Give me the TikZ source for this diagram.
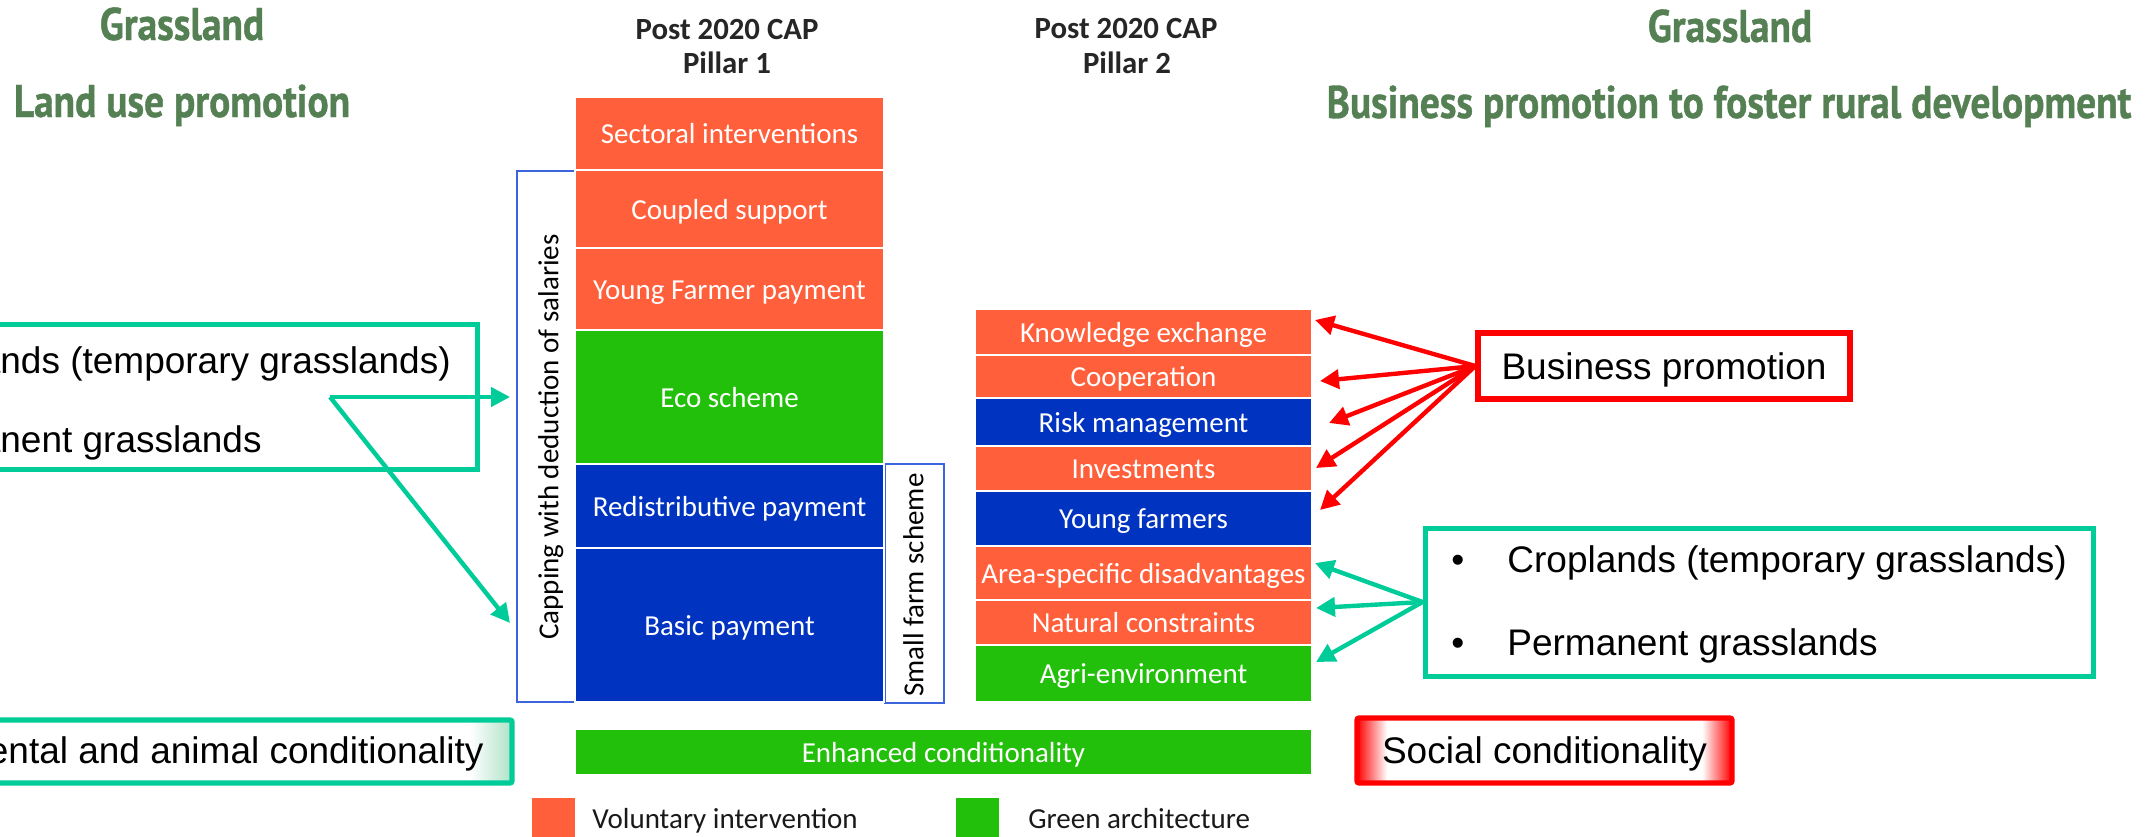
\documentclass[tikz,border=0pt]{standalone}
\usepackage{fontspec}
\usetikzlibrary{arrows.meta,fit}
\setmainfont{Liberation Sans}
\newfontfamily\capfont{Carlito}
\newfontfamily\ttlfont{PT Sans}[FakeStretch=0.86,FakeBold=0.8]
\definecolor{ttlgreen}{RGB}{84,128,84}
\definecolor{cteal}{RGB}{0,204,153}
\definecolor{corange}{RGB}{255,95,58}
\definecolor{cgreen}{RGB}{34,192,10}
\definecolor{cblue}{RGB}{0,51,192}
\definecolor{cbrk}{RGB}{60,100,220}
\definecolor{cred}{RGB}{255,0,0}
\definecolor{envg}{RGB}{175,226,200}
\pgfdeclarehorizontalshading{socshade}{100bp}{color(0bp)=(cred); color(25bp)=(cred); color(29bp)=(white); color(71bp)=(white); color(75bp)=(cred); color(100bp)=(cred)}
\pgfdeclarehorizontalshading{envshade}{100bp}{color(0bp)=(envg); color(25bp)=(envg); color(28bp)=(white); color(72bp)=(white); color(75bp)=(envg); color(100bp)=(envg)}
% box node from corner (#3,#4) to (#5,#6), style #2, name #1, text #7
\newcommand\boxnode[7]{\node[#2, minimum width={(#5-#3)*0.5pt}, minimum height={(#6-#4)*0.5pt}] (#1) at ({(#3+#5)/2},{(#4+#6)/2}) {#7};}
\begin{document}
\begin{tikzpicture}[x=0.5pt,y=-0.5pt,
  ttl/.style={font=\ttlfont\bfseries\fontsize{22.9}{26}\selectfont, text=ttlgreen, inner sep=0pt},
  ptitle/.style={font=\capfont\bfseries\fontsize{15.4}{18}\selectfont, text=black!85, inner sep=0pt},
  bar/.style={draw=white, line width=0.8pt, inner sep=0pt, text=white, font=\capfont\fontsize{14.5}{16}\selectfont, text height=10pt, text depth=0pt},
  obar/.style={bar, fill=corange},
  gbar/.style={bar, fill=cgreen},
  bbar/.style={bar, fill=cblue},
  brk/.style={draw=cbrk, line width=1.1pt, inner sep=0pt},
  captext/.style={font=\capfont\fontsize{14.5}{16}\selectfont, text=black, inner sep=0pt, text height=9.3pt, text depth=0pt},
  lgtext/.style={font=\capfont\fontsize{14.5}{16}\selectfont, text=black!90, inner sep=0pt},
  atext/.style={font=\fontsize{18.5}{22}\selectfont, text=black, inner sep=0pt},
  tealbox/.style={draw=cteal, line width=2.5pt, inner sep=0pt},
  redbox/.style={draw=cred, line width=2.7pt, inner sep=0pt, font=\fontsize{18.5}{22}\selectfont, text height=13.2pt, text depth=0pt},
  socbox/.style={draw=cred, line width=2.6pt, rounded corners=1pt, inner sep=0pt, shading=socshade, font=\fontsize{18.5}{22}\selectfont, text height=13.2pt, text depth=0pt},
  envbox/.style={draw=cteal, line width=2.6pt, rounded corners=1pt, inner sep=0pt, shading=envshade},
  osq/.style={fill=corange, inner sep=0pt},
  gsq/.style={fill=cgreen, inner sep=0pt},
  redarrow/.style={draw=cred, line width=2.2pt, -{Triangle[length=9.5pt,width=9.5pt]}},
  tealarrow/.style={draw=cteal, line width=2.2pt, -{Triangle[length=9.5pt,width=9.5pt]}}
]
\useasboundingbox (0,0) rectangle (2146,836);
\clip (0,0) rectangle (2146,836);
\fill[white] (0,0) rectangle (2146,836);

% titles
\node[ttl, anchor=base] (tl1) at (182,40) {Grassland};
\node[ttl, anchor=base] (tl2) at (182,117) {Land use promotion};
\node[ttl, anchor=base] (tr1) at (1730,42) {Grassland};
\node[ttl, anchor=base] (tr2) at (1729,118) {Business promotion to foster rural development};

\node[ptitle, anchor=base] (p1a) at (727,39) {Post 2020 CAP};
\node[ptitle, anchor=base] (p1b) at (727,73) {Pillar 1};
\node[ptitle, anchor=base] (p2a) at (1126,38) {Post 2020 CAP};
\node[ptitle, anchor=base] (p2b) at (1127,73) {Pillar 2};

% brackets
\boxnode{capbox}{brk}{517}{171}{577}{702}{}
\boxnode{sfbox}{brk}{885}{464}{944}{703}{}
\node[captext, rotate=90] (captxt) at (549,437) {Capping with deduction of salaries};
\node[captext, rotate=90] (sftxt) at (914,585) {Small farm scheme};

% pillar 1
\boxnode{sec}{obar}{575}{97}{884}{170}{Sectoral interventions}
\boxnode{cpl}{obar}{575}{170}{884}{248}{Coupled support}
\boxnode{yfp}{obar}{575}{248}{884}{330}{Young Farmer payment}
\boxnode{eco}{gbar}{575}{330}{884}{464}{Eco scheme}
\boxnode{rdp}{bbar}{575}{464}{884}{548}{Redistributive payment}
\boxnode{bas}{bbar}{575}{548}{884}{702}{Basic payment}

% pillar 2
\boxnode{ke}{obar}{975}{309}{1312}{355}{Knowledge exchange}
\boxnode{co}{obar}{975}{355}{1312}{398}{Cooperation}
\boxnode{rm}{bbar}{975}{398}{1312}{446}{Risk management}
\boxnode{inv}{obar}{975}{446}{1312}{491}{Investments}
\boxnode{yf}{bbar}{975}{491}{1312}{546}{Young farmers}
\boxnode{asd}{obar}{975}{546}{1312}{600}{Area-specific disadvantages}
\boxnode{nc}{obar}{975}{600}{1312}{645}{Natural constraints}
\boxnode{ae}{gbar}{975}{645}{1312}{702}{Agri-environment}

\boxnode{enh}{gbar}{575}{729}{1312}{775}{Enhanced conditionality}

% legend
\boxnode{lg1}{osq}{532}{798}{575}{850}{}
\node[lgtext, anchor=base west] (lg1t) at (592,828) {Voluntary intervention};
\boxnode{lg2}{gsq}{956}{798}{999}{850}{}
\node[lgtext, anchor=base west] (lg2t) at (1028,828) {Green architecture};

% left boxes
\boxnode{gbl}{tealbox}{-191}{324}{477}{469}{}
\node[atext, anchor=base west] (gbl1b) at (-165,373) {\textbullet};
\node[atext, anchor=base west] (gbl1) at (-109,373) {Croplands (temporary grasslands)};
\node[atext, anchor=base west] (gbl2b) at (-165,452) {\textbullet};
\node[atext, anchor=base west] (gbl2) at (-109,452) {Permanent grasslands};

\boxnode{env}{envbox}{-196}{720}{512}{783}{}
\node[atext, anchor=base east] (envt) at (484,763) {Environmental and animal conditionality};

% right boxes
\boxnode{bp}{redbox}{1478}{333}{1850}{399}{Business promotion}
\boxnode{gbr}{tealbox}{1425}{528}{2093}{676}{}
\node[atext, anchor=base west] (gbr1b) at (1451,572) {\textbullet};
\node[atext, anchor=base west] (gbr1) at (1507,572) {Croplands (temporary grasslands)};
\node[atext, anchor=base west] (gbr2b) at (1451,655) {\textbullet};
\node[atext, anchor=base west] (gbr2) at (1507,655) {Permanent grasslands};

\boxnode{soc}{socbox}{1357}{718}{1732}{783}{Social conditionality}

% arrows
\coordinate (lsrc) at (330,397);
\coordinate (ecoin) at (510,397);
\coordinate (basin) at (510,623);
\draw[tealarrow] (lsrc) -- (ecoin);
\draw[tealarrow] (lsrc) -- (basin);

\coordinate (t1) at (1315,320);
\coordinate (t2) at (1320,381);
\coordinate (t3) at (1329,423);
\coordinate (t4) at (1316,468);
\coordinate (t5) at (1320,510);
\foreach \t in {t1,t2,t3,t4,t5} \draw[redarrow] (bp.west) -- (\t);

\coordinate (g1) at (1315,563);
\coordinate (g2) at (1316,608);
\coordinate (g3) at (1316,662);
\foreach \t in {g1,g2,g3} \draw[tealarrow] (gbr.west) -- (\t);
\end{tikzpicture}
\end{document}
